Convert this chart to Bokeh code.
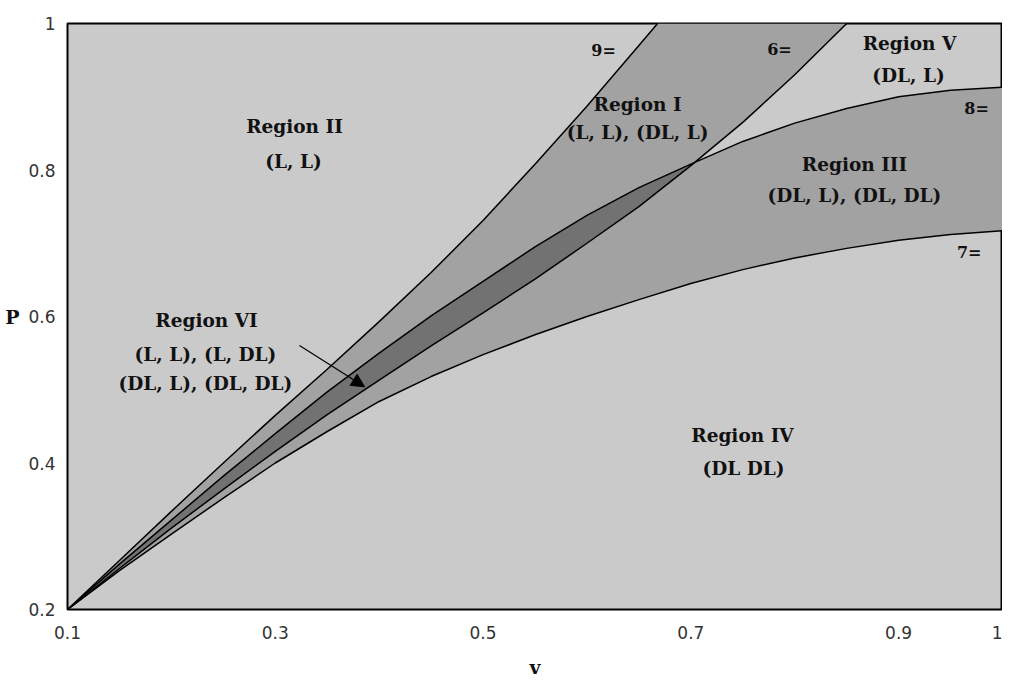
import numpy as np
from bokeh.plotting import figure
from bokeh.models import Range1d, FixedTicker, CustomJSTickFormatter, Label, Arrow, NormalHead
from bokeh.embed import file_html
from bokeh.resources import INLINE

# ---- data ----
v_line9 = [0.1, 0.15, 0.2, 0.25, 0.3, 0.35, 0.4, 0.45, 0.5, 0.55, 0.6, 0.65, 0.668]
p_line9 = [0.2, 0.267, 0.334, 0.400, 0.465, 0.528, 0.593, 0.660, 0.731, 0.808, 0.887, 0.970, 1.0]

v_line6 = [0.1, 0.15, 0.2, 0.25, 0.3, 0.35, 0.4, 0.45, 0.5, 0.55, 0.6, 0.65, 0.7, 0.75, 0.8, 0.85]
p_line6 = [0.2, 0.256, 0.311, 0.364, 0.416, 0.466, 0.513, 0.560, 0.605, 0.651, 0.700, 0.750, 0.806,
           0.865, 0.930, 1.0]

v_curve8 = [0.1, 0.15, 0.2, 0.25, 0.3, 0.35, 0.4, 0.45, 0.5, 0.55, 0.6, 0.65, 0.7, 0.75, 0.8,
            0.85, 0.9, 0.95, 1.0]
p_curve8 = [0.2, 0.262, 0.322, 0.382, 0.440, 0.497, 0.550, 0.601, 0.648, 0.695, 0.738, 0.776,
            0.808, 0.839, 0.864, 0.884, 0.900, 0.909, 0.913]

v_curve7 = [0.1, 0.15, 0.2, 0.25, 0.3, 0.35, 0.4, 0.45, 0.5, 0.55, 0.6, 0.65, 0.7, 0.75, 0.8,
            0.85, 0.9, 0.95, 1.0]
p_curve7 = [0.2, 0.253, 0.303, 0.352, 0.400, 0.443, 0.484, 0.518, 0.548, 0.575, 0.600, 0.623,
            0.645, 0.664, 0.680, 0.693, 0.704, 0.712, 0.717]

x_ticks = [0.1, 0.3, 0.5, 0.7, 0.9, 1.0]
y_ticks = [0.2, 0.4, 0.6, 0.8, 1.0]

region_texts = ["Region II", "(L, L)",
                "Region I", "(L, L), (DL, L)",
                "Region V", "(DL, L)",
                "Region III", "(DL, L), (DL, DL)",
                "Region IV", "(DL DL)",
                "Region VI", "(L, L), (L, DL)", "(DL, L), (DL, DL)"]
region_v = [0.3185, 0.3175, 0.6487, 0.6487, 0.9105, 0.9095, 0.8575, 0.8575, 0.7497, 0.7507,
            0.2338, 0.2328, 0.2328]
region_p = [0.8594, 0.8116, 0.8894, 0.8512, 0.9727, 0.929, 0.8075, 0.7652, 0.4375, 0.3925,
            0.5945, 0.5481, 0.5085]

curve_labels = ["9=", "6=", "8=", "7="]
curve_lab_v = [0.616, 0.7853, 0.975, 0.968]
curve_lab_p = [0.963, 0.9645, 0.884, 0.687]

LIGHT = "#cacaca"
MED = "#a2a2a2"
DARK = "#727272"

p = figure(width=1002, height=676, frame_width=935, frame_height=586,
           x_range=Range1d(0.1, 1.0), y_range=Range1d(0.2, 1.0),
           output_backend="svg", toolbar_location=None,
           min_border_left=67, min_border_top=23, min_border_right=0, min_border_bottom=67)
p.background_fill_color = LIGHT
p.border_fill_color = "white"
p.outline_line_color = "black"
p.outline_line_width = 2
p.grid.visible = False

# band I : between line 9 and line 6
p.patch(v_line9 + v_line6[::-1], p_line9 + p_line6[::-1], fill_color=MED, line_color=None)
# band III : between curve 8 and curve 7
p.patch(v_curve8 + v_curve7[::-1], p_curve8 + p_curve7[::-1], fill_color=MED, line_color=None)

# overlap : between line 6 and curve 8 where curve 8 is above line 6
g = np.linspace(0.1, 0.8, 2000)
diff = np.interp(g, v_curve8, p_curve8) - np.interp(g, v_line6, p_line6)
idx = np.where(diff[5:] < 0)[0]
vx = g[5 + idx[0]] if len(idx) else 0.7
gg = np.linspace(0.1, vx, 400)
up = np.interp(gg, v_curve8, p_curve8)
lo = np.minimum(np.interp(gg, v_line6, p_line6), up)
p.patch(list(gg) + list(gg[::-1]), list(up) + list(lo[::-1]), fill_color=DARK, line_color=None)

for xs, ys in [(v_line9, p_line9), (v_line6, p_line6), (v_curve8, p_curve8), (v_curve7, p_curve7)]:
    p.line(xs, ys, line_color="black", line_width=1.5)

for t, x, y in zip(region_texts, region_v, region_p):
    p.add_layout(Label(x=x, y=y, text=t, text_align="center", text_baseline="middle",
                       text_font="DejaVu Serif", text_font_style="bold", text_font_size="18.5px",
                       text_color="#111111"))
for t, x, y in zip(curve_labels, curve_lab_v, curve_lab_p):
    p.add_layout(Label(x=x, y=y, text=t, text_align="center", text_baseline="middle",
                       text_font="DejaVu Serif", text_font_style="bold", text_font_size="16px",
                       text_color="#111111"))

p.add_layout(Arrow(end=NormalHead(size=13, fill_color="black", line_color="black"),
                   x_start=0.3233, y_start=0.5604, x_end=0.386, y_end=0.504,
                   line_color="black", line_width=1.2))

fmt = CustomJSTickFormatter(code="return Math.abs(tick - 1) < 1e-9 ? '1' : tick.toFixed(1);")
p.xaxis.ticker = FixedTicker(ticks=x_ticks)
p.yaxis.ticker = FixedTicker(ticks=y_ticks)
p.xaxis.formatter = fmt
p.yaxis.formatter = fmt
for ax in (p.xaxis[0], p.yaxis[0]):
    ax.axis_line_color = None
    ax.major_tick_line_color = None
    ax.minor_tick_line_color = None
    ax.major_label_text_font = "DejaVu Sans"
    ax.major_label_text_font_size = "17px"
    ax.major_label_text_color = "#333333"
    ax.axis_label_text_font = "DejaVu Serif"
    ax.axis_label_text_font_style = "bold"
    ax.axis_label_text_font_size = "19px"
    ax.axis_label_text_color = "#111111"
p.xaxis.axis_label = "v"
p.yaxis.axis_label = "P"
p.yaxis.axis_label_orientation = "horizontal"
p.xaxis.major_label_standoff = 10
p.yaxis.major_label_standoff = 6
p.xaxis.axis_label_standoff = 14
p.yaxis.axis_label_standoff = 6

open("out.html", "w").write(file_html(p, INLINE))
